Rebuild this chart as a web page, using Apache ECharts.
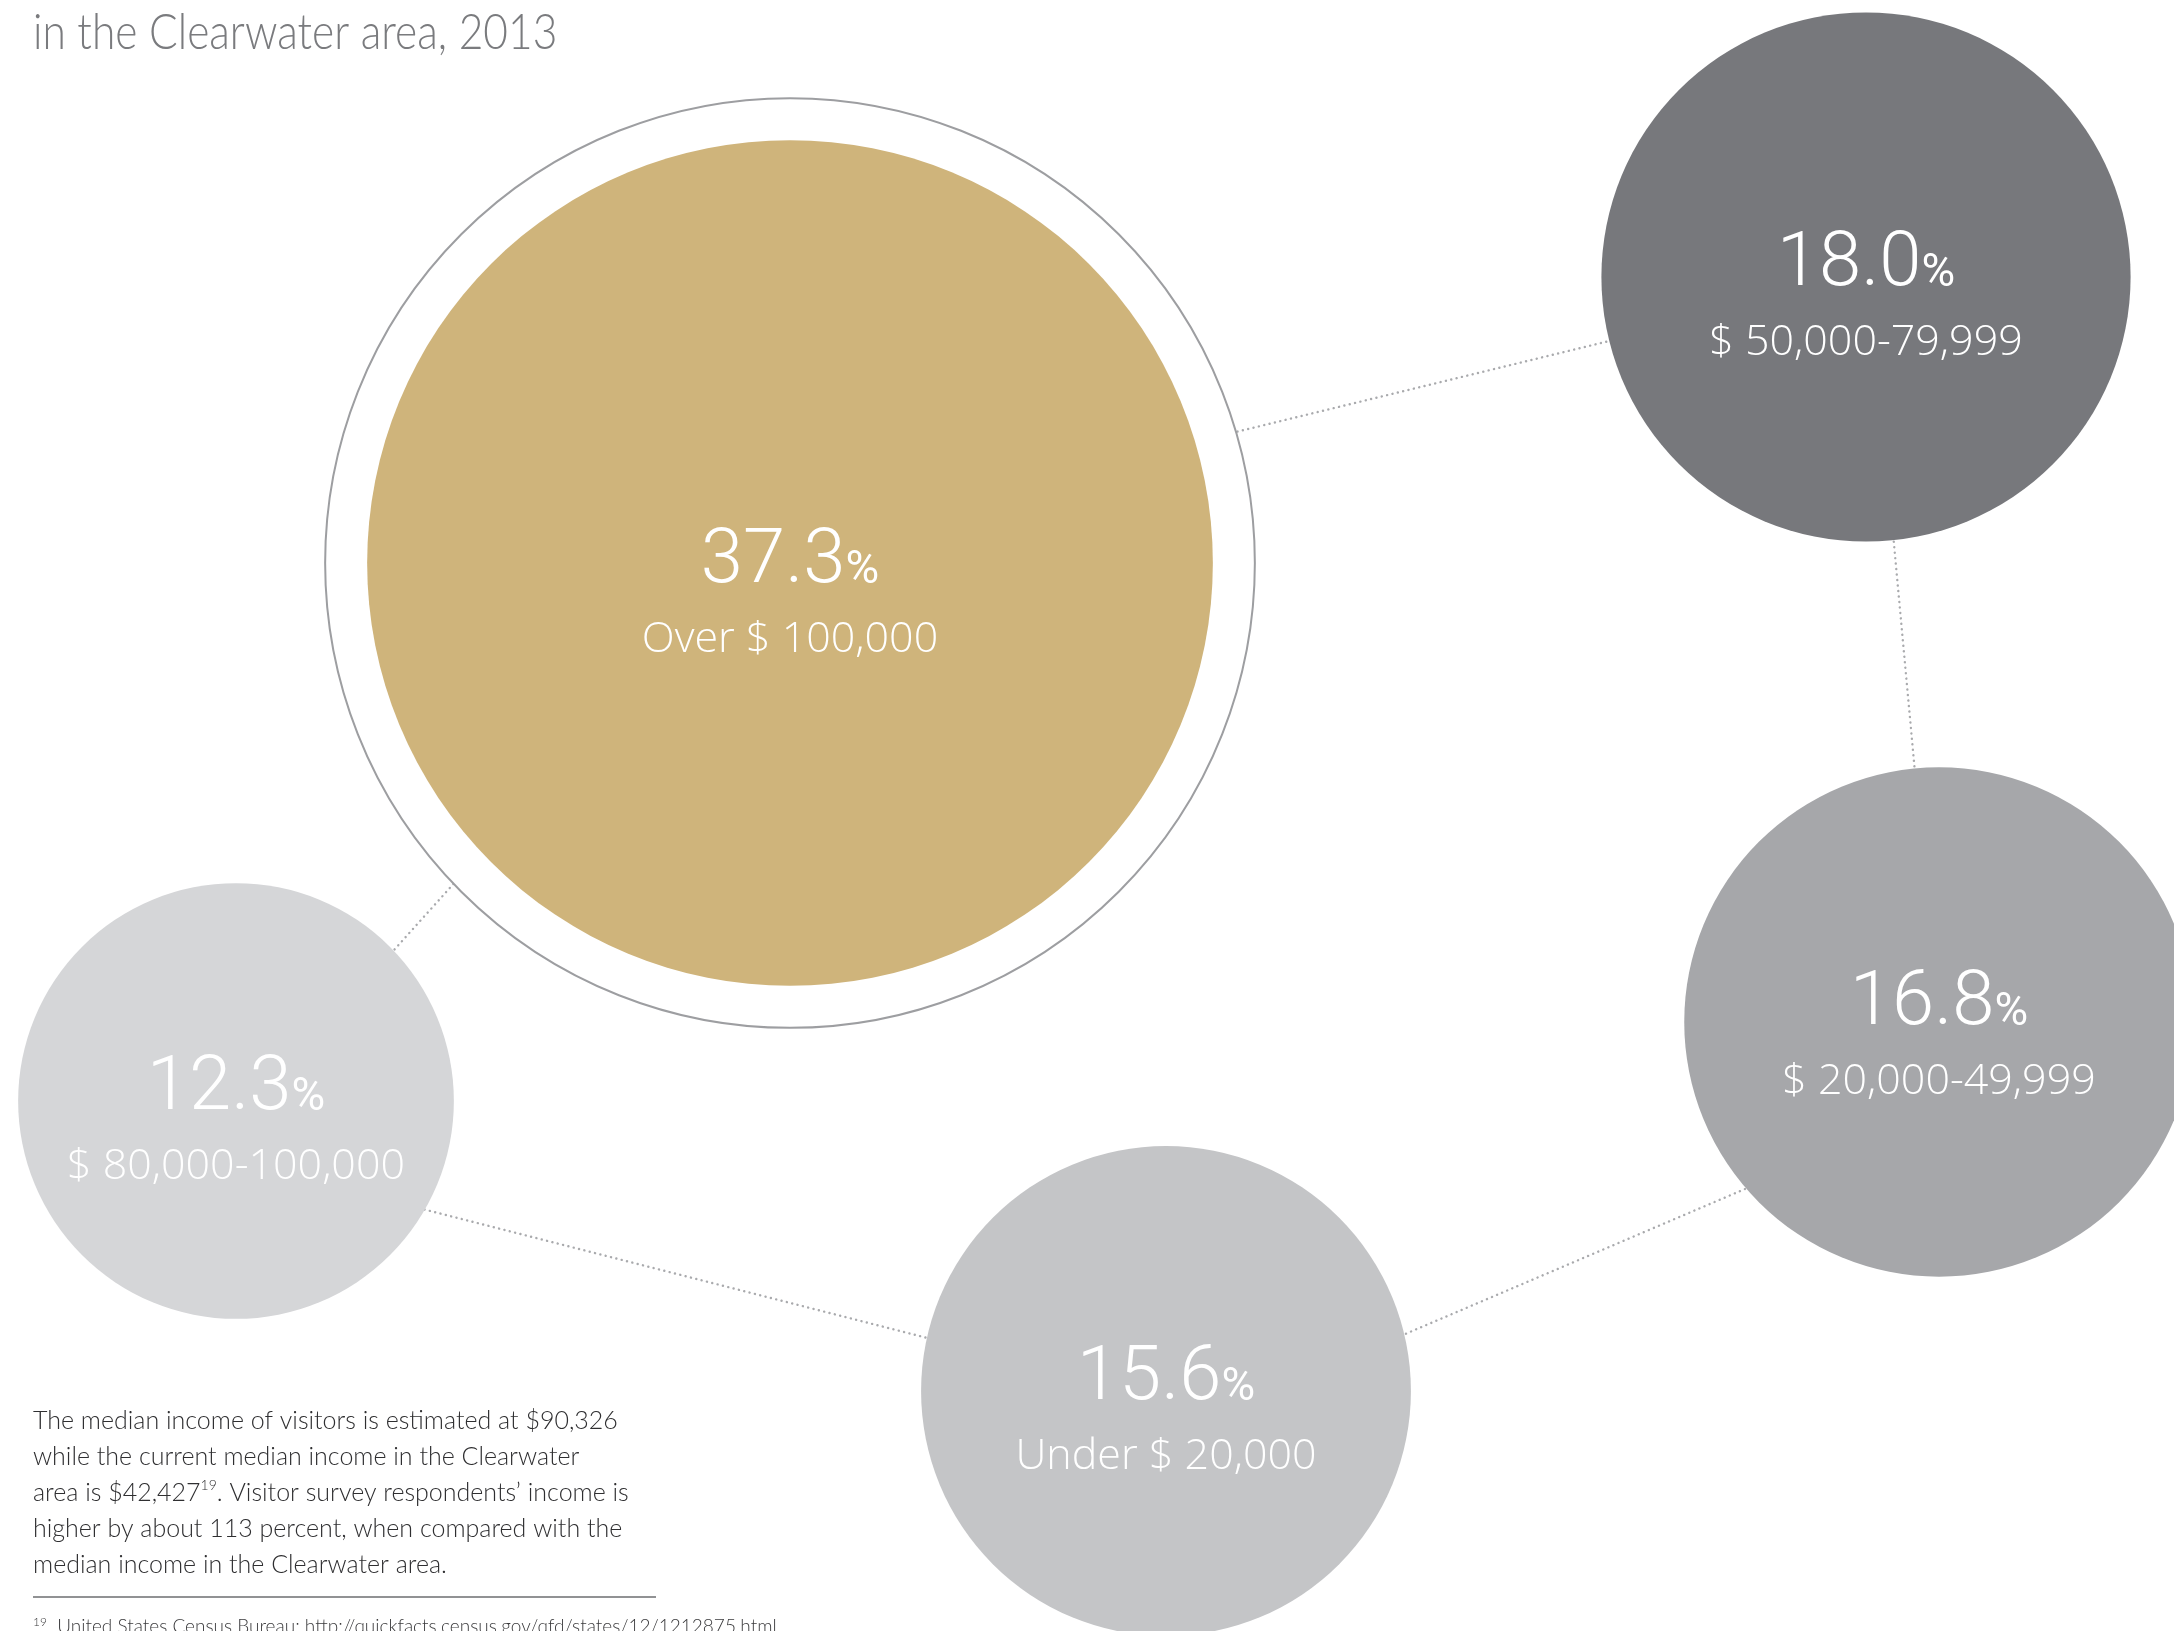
<!DOCTYPE html>
<html>
<head>
<meta charset="utf-8">
<script src="https://cdn.jsdelivr.net/npm/echarts@6/dist/echarts.min.js"></script>
<style>
  html, body { margin: 0; padding: 0; background: #fff; }
  #chart { width: 2174px; height: 1631px; }
</style>
</head>
<body>
<div id="chart"></div>
<script>
// income bands of visitors, share of respondents (%)
const categories = ['Over $ 100,000', '$ 50,000-79,999', '$ 20,000-49,999', '$ 80,000-100,000', 'Under $ 20,000']
const shares = [37.3, 18.0, 16.8, 12.3, 15.6]

// layout only (pixel centres of the bubbles and connector angles)
const centres = [[790, 563], [1866, 277], [1939, 1022], [236, 1101], [1166, 1391]]
const links = [[0, 1, -16.4, 166], [1, 2, 84, -95.5], [2, 4, 138.9, -13.2], [4, 3, -167.5, 30.2], [3, 0, -43.6, 136.4]]
const colors = ['#CFB47B', '#77787C', '#A6A7AA', '#D5D6D8', '#C4C5C7']
const W = 2174, H = 1631

const radius = v => 117 + 8.2 * v
const ringGap = 42

const edgeRadius = i => radius(shares[i]) + (i === 0 ? ringGap : 0) - 4
const edgePoint = (i, deg) => {
    const a = deg * Math.PI / 180
    const r = edgeRadius(i)
    return [centres[i][0] + r * Math.cos(a), centres[i][1] + r * Math.sin(a)]
}

const myChart = echarts.init(document.getElementById('chart'))

const option = {
    backgroundColor: '#fff',
    animation: false,
    grid: { left: 0, right: 0, top: 0, bottom: 0 },
    xAxis: { type: 'value', min: 0, max: W, show: false },
    yAxis: { type: 'value', min: 0, max: H, inverse: true, show: false },
    series: [
        {
            type: 'lines',
            coordinateSystem: 'cartesian2d',
            z: 1,
            silent: true,
            lineStyle: {
                color: '#A9AAAD',
                width: 2.4,
                type: [0.1, 5.4],
                cap: 'round',
                opacity: 1
            },
            data: links.map(l => ({ coords: [edgePoint(l[0], l[2]), edgePoint(l[1], l[3])] }))
        },
        {
            // thin ring round the biggest bubble
            type: 'scatter',
            z: 2,
            silent: true,
            symbolSize: v => 2 * (radius(v[2]) + ringGap),
            itemStyle: { color: '#fff', borderColor: '#9D9EA1', borderWidth: 2, opacity: 1 },
            data: [[centres[0][0], centres[0][1], shares[0]]]
        },
        {
            type: 'scatter',
            z: 3,
            symbolSize: v => 2 * radius(v[2]),
            data: shares.map((v, i) => ({
                value: [centres[i][0], centres[i][1], v],
                name: categories[i],
                itemStyle: { color: colors[i], opacity: 1 },
                label: { offset: [0, i === 0 ? 35 : i === 2 ? 18 : 24] }
            })),
            label: {
                show: true,
                position: 'inside',
                color: '#fff',
                formatter: p => `{n|${p.value[2].toFixed(1)}}{p|%}\n{s|${p.name}}`,
                rich: {
                    n: { fontFamily: 'Roboto', fontWeight: 300, fontSize: 76, lineHeight: 84, color: '#fff' },
                    p: { fontFamily: 'Roboto', fontWeight: 400, fontSize: 46, lineHeight: 84, color: '#fff', padding: [16, 0, 0, 0] },
                    s: { fontFamily: 'Open Sans', fontWeight: 300, fontSize: 43, lineHeight: 70, color: '#fff' }
                }
            }
        }
    ],
    graphic: [
        {
            type: 'text',
            x: 33,
            y: 8,
            scaleX: 0.85,
            style: {
                text: 'in the Clearwater area, 2013',
                fontFamily: 'Lato',
                fontWeight: 300,
                fontSize: 50,
                fill: '#7a7b7e'
            }
        },
        {
            type: 'text',
            left: 33,
            top: 1408,
            style: {
                text: [
                    '{t|The median income of visitors is estimated at $90,326}',
                    '{t|while the current median income in the Clearwater}',
                    '{t|area is $42,427}{u|19}{t|. Visitor survey respondents\u2019 income is}',
                    '{t|higher by about 113 percent, when compared with the}',
                    '{t|median income in the Clearwater area.}'
                ].join('\n'),
                rich: {
                    t: { fontFamily: 'Lato', fontWeight: 300, fontSize: 25, lineHeight: 36, fill: '#2f2f31' },
                    u: { fontFamily: 'Lato', fontWeight: 300, fontSize: 14, lineHeight: 36, fill: '#2f2f31', padding: [0, 0, 14, 0] }
                }
            }
        },
        {
            type: 'line',
            silent: true,
            shape: { x1: 33, y1: 1597, x2: 656, y2: 1597 },
            style: { stroke: '#6d6e71', lineWidth: 1.5 }
        },
        {
            type: 'text',
            left: 33,
            top: 1616,
            style: {
                text: '{u|19}{t|  United States Census Bureau: http://quickfacts.census.gov/qfd/states/12/1212875.html}',
                rich: {
                    t: { fontFamily: 'Lato', fontWeight: 300, fontSize: 19, lineHeight: 26, fill: '#3a3a3c' },
                    u: { fontFamily: 'Lato', fontWeight: 300, fontSize: 12, lineHeight: 26, fill: '#3a3a3c', padding: [0, 0, 10, 0] }
                }
            }
        }
    ]
}

myChart.setOption(option)
</script>
</body>
</html>
